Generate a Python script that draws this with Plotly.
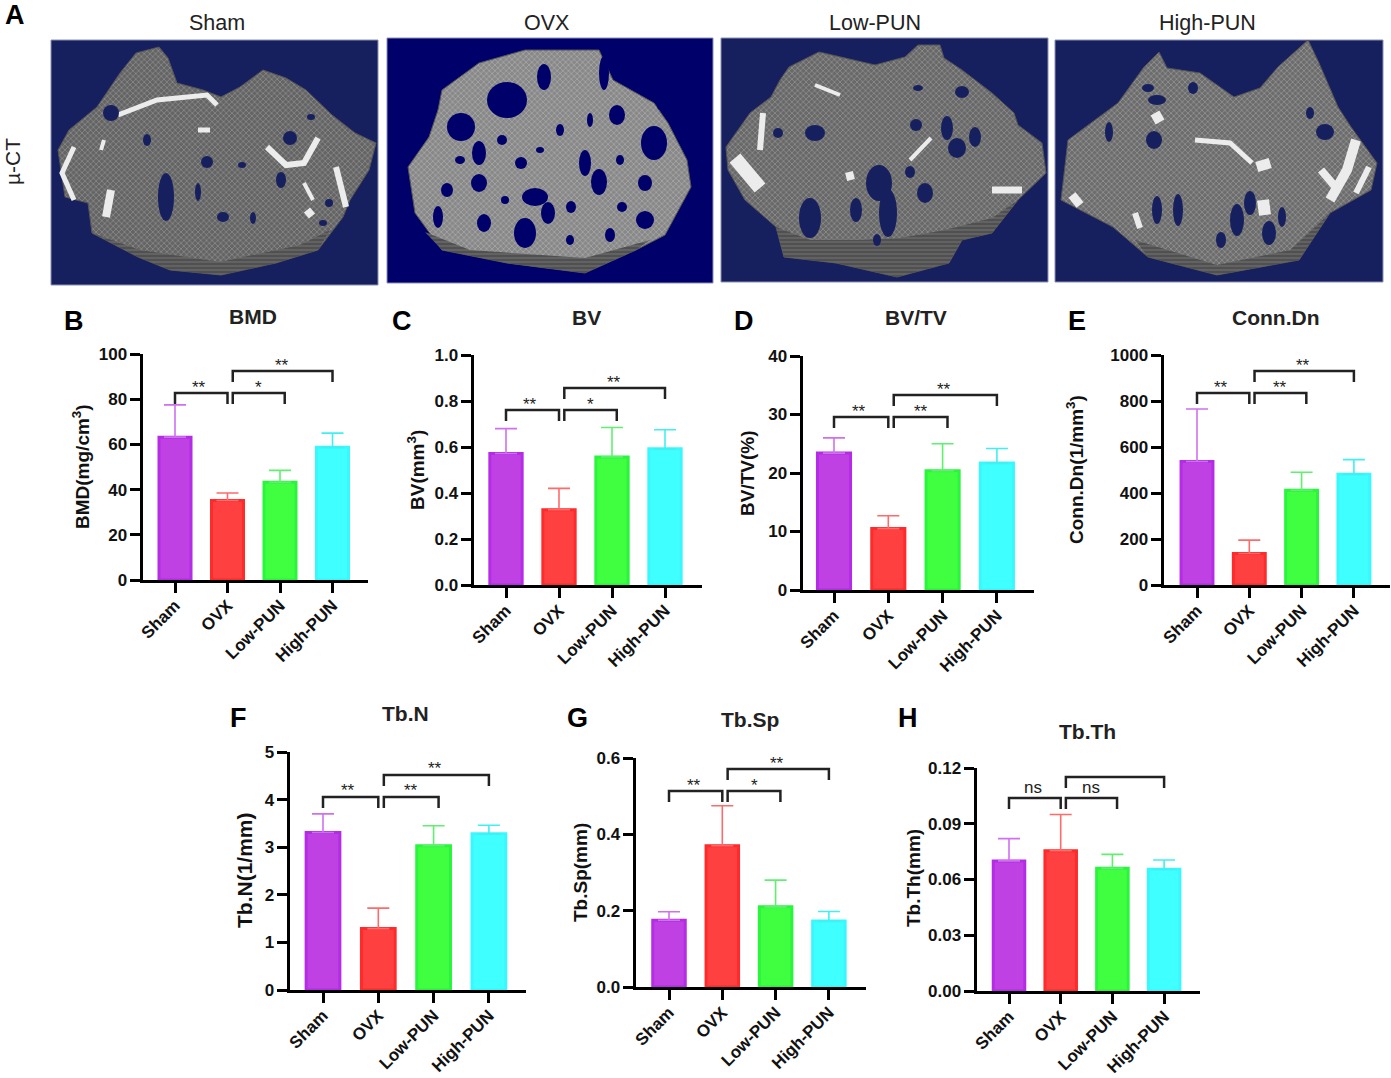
import plotly.graph_objects as go

W, H = 1391, 1078
FONT = 'Liberation Sans'

groups = ['Sham', 'OVX', 'Low-PUN', 'High-PUN']
fill_colors = ['#BF40E3', '#FF4040', '#40FF40', '#40FFFF']
line_colors = ['#B52CE6', '#FF2A2A', '#28F53C', '#38F8FF']
err_colors = ['#D070F0', '#FF6A6A', '#60F070', '#40F0F0']

bmd = [63.2, 35.2, 43.2, 58.7]
bmd_sd = [14.3, 3.3, 5.3, 6.3]
bv = [0.572, 0.327, 0.557, 0.592]
bv_sd = [0.108, 0.093, 0.128, 0.083]
bvtv = [23.4, 10.5, 20.4, 21.7]
bvtv_sd = [2.6, 2.2, 4.6, 2.5]
conn = [537, 137, 412, 482]
conn_sd = [228, 58, 78, 63]
tbn = [3.31, 1.29, 3.03, 3.28]
tbn_sd = [0.39, 0.43, 0.42, 0.18]
tbsp = [0.175, 0.37, 0.21, 0.173]
tbsp_sd = [0.022, 0.105, 0.07, 0.025]
tbth = [0.07, 0.0755, 0.066, 0.0655]
tbth_sd = [0.012, 0.0195, 0.0075, 0.005]

# name, y title, values, sd, tick labels, significance labels
panels = [
    ('BMD', 'BMD(mg/cm<sup>3</sup>)', bmd, bmd_sd, ['0', '20', '40', '60', '80', '100'], ['**', '*', '**']),
    ('BV', 'BV(mm<sup>3</sup>)', bv, bv_sd, ['0.0', '0.2', '0.4', '0.6', '0.8', '1.0'], ['**', '*', '**']),
    ('BV/TV', 'BV/TV(%)', bvtv, bvtv_sd, ['0', '10', '20', '30', '40'], ['**', '**', '**']),
    ('Conn.Dn', 'Conn.Dn(1/mm<sup>3</sup>)', conn, conn_sd, ['0', '200', '400', '600', '800', '1000'], ['**', '**', '**']),
    ('Tb.N', 'Tb.N(1/mm)', tbn, tbn_sd, ['0', '1', '2', '3', '4', '5'], ['**', '**', '**']),
    ('Tb.Sp', 'Tb.Sp(mm)', tbsp, tbsp_sd, ['0.0', '0.2', '0.4', '0.6'], ['**', '*', '**']),
    ('Tb.Th', 'Tb.Th(mm)', tbth, tbth_sd, ['0.00', '0.03', '0.06', '0.09', '0.12'], ['ns', 'ns', 'ns']),
]

# page layout in pixels: axis left, axis right, y top, y bottom, first bar, bar step,
# low bracket top, high bracket top, title x, title y, y title x, y title y, y title size
geom = [
    (141, 368, 354, 581, 175, 52.5, 393, 371, 253, 316, 81, 467, 19),
    (472, 702, 355, 586, 506, 53, 410, 388, 586, 317, 416, 470, 19),
    (801, 1034, 356, 591, 834, 54.3, 417, 395, 916, 317, 748, 473, 19),
    (1162, 1390, 355, 586, 1197, 52.3, 393, 371, 1275, 317, 1075, 470, 19),
    (288, 526, 752, 991, 323, 55.3, 797, 775, 406, 713, 244, 870, 21),
    (634, 866, 758, 988, 669, 53.3, 791, 769, 750, 719, 580, 873, 19),
    (975, 1200, 768, 992, 1009, 51.7, 798, 777, 1087, 731, 913, 878, 19),
]
letters = [('A', 15, 15), ('B', 74, 321), ('C', 402, 321), ('D', 744, 321),
           ('E', 1077, 321), ('F', 238, 718), ('G', 577, 718), ('H', 908, 718)]

# the four micro-CT pictures, sketched in page pixels
ct_titles = [('Sham', 217), ('OVX', 546), ('Low-PUN', 875), ('High-PUN', 1207)]
ct_rects = [(51, 40, 378, 285, '#17205F'), (387, 38, 713, 283, '#00006B'),
            (721, 38, 1048, 282, '#17205F'), (1055, 40, 1383, 282, '#17205F')]
ct_bodies = [
    [(136, 53), (159, 47), (168, 58), (177, 83), (203, 90), (221, 97), (240, 87), (263, 70), (286, 78),
     (306, 90), (332, 115), (355, 133), (376, 143), (369, 170), (350, 200), (343, 217), (318, 250),
     (276, 263), (221, 275), (170, 270), (138, 257), (92, 233), (88, 203), (65, 197), (58, 150),
     (69, 130), (97, 107), (120, 73)],
    [(442, 90), (479, 63), (525, 50), (599, 50), (613, 80), (654, 103), (668, 123), (687, 160), (691, 187),
     (677, 213), (665, 235), (636, 250), (585, 273), (507, 263), (442, 250), (415, 213), (408, 167),
     (429, 137), (438, 110)],
    [(789, 67), (819, 52), (845, 58), (875, 65), (905, 57), (918, 45), (940, 45), (944, 58), (962, 70),
     (992, 93), (1014, 113), (1018, 125), (1042, 143), (1046, 173), (1018, 200), (992, 233), (962, 240),
     (949, 263), (897, 277), (836, 263), (784, 257), (776, 227), (745, 200), (728, 170), (726, 147),
     (750, 113), (771, 97), (780, 80)],
    [(1144, 67), (1159, 52), (1167, 68), (1200, 73), (1234, 97), (1260, 88), (1278, 67), (1308, 40),
     (1319, 63), (1338, 107), (1351, 127), (1377, 163), (1371, 190), (1330, 213), (1299, 260), (1217, 275),
     (1148, 257), (1113, 227), (1061, 200), (1068, 140), (1118, 103)],
]
ct_bands = [
    [(92, 233), (140, 250), (220, 262), (300, 245), (330, 230), (318, 250), (276, 263), (221, 275), (170, 270), (138, 257)],
    [(425, 232), (470, 250), (585, 258), (650, 240), (636, 250), (585, 273), (507, 263), (442, 250)],
    [(776, 227), (810, 240), (860, 240), (900, 238), (945, 230), (992, 218), (1018, 200), (992, 233), (962, 240),
     (949, 263), (897, 277), (836, 263), (784, 257)],
    [(1135, 240), (1217, 265), (1290, 250), (1330, 213), (1299, 260), (1217, 275), (1148, 257)],
]
ct_tones = [('#C4C4C4', '#646464'), ('#D6D6D6', '#888888'), ('#C8C8C8', '#686868'), ('#CCCCCC', '#6C6C6C')]
# centre x, centre y, radius x, radius y
ct_holes = [
    [(290, 138, 7, 7), (166, 197, 8, 24), (207, 162, 6, 6), (281, 180, 5, 8), (223, 217, 6, 5), (111, 113, 8, 8),
     (253, 218, 3, 6), (198, 192, 3, 9), (311, 117, 4, 3), (147, 140, 4, 6), (242, 165, 4, 3), (329, 203, 4, 4),
     (323, 223, 4, 3)],
    [(507, 100, 20, 18), (461, 127, 14, 14), (617, 115, 8, 10), (654, 143, 13, 17), (479, 153, 7, 12),
     (585, 163, 6, 13), (599, 182, 8, 13), (645, 183, 7, 8), (521, 163, 6, 6), (479, 183, 8, 9), (447, 190, 6, 7),
     (535, 197, 13, 9), (525, 233, 11, 15), (484, 223, 7, 9), (548, 213, 7, 11), (645, 220, 9, 9),
     (502, 140, 5, 5), (571, 207, 5, 6), (622, 207, 5, 5), (438, 217, 5, 11), (544, 77, 7, 13), (604, 73, 5, 17),
     (560, 130, 4, 6), (590, 120, 3, 7), (540, 150, 4, 3), (620, 160, 4, 5), (505, 200, 4, 4), (460, 160, 5, 4),
     (610, 235, 5, 7), (570, 240, 4, 5), (660, 105, 3, 5)],
    [(888, 213, 9, 24), (810, 218, 11, 20), (879, 183, 13, 18), (815, 133, 10, 8), (957, 148, 9, 10),
     (975, 137, 6, 10), (947, 128, 6, 12), (962, 92, 7, 6), (856, 210, 6, 12), (925, 193, 8, 10), (778, 133, 5, 5),
     (910, 172, 5, 6), (916, 125, 6, 6), (918, 88, 5, 3), (877, 240, 4, 6)],
    [(1157, 210, 5, 14), (1178, 210, 5, 16), (1237, 220, 7, 16), (1269, 233, 7, 12), (1325, 132, 9, 8),
     (1154, 140, 8, 9), (1157, 100, 9, 5), (1148, 88, 6, 4), (1193, 88, 5, 6), (1250, 203, 6, 12), (1109, 132, 4, 10),
     (1221, 240, 5, 8), (1282, 217, 4, 10), (1310, 113, 4, 6)],
]
# width, points
ct_streaks = [
    (5, [(118, 115), (157, 100), (207, 95), (217, 105)]), (6, [(267, 147), (286, 165), (304, 163), (318, 138)]),
    (5, [(74, 147), (62, 173), (74, 200)]), (6, [(336, 167), (346, 207)]), (8, [(111, 190), (106, 217)]),
    (4, [(304, 183), (313, 200)]), (5, [(198, 130), (210, 130)]), (4, [(104, 140), (101, 150)]), (8, [(307, 210), (312, 216)]),
    (6, [(763, 113), (760, 150)]), (7, [(992, 190), (1022, 190)]), (4, [(910, 160), (931, 138)]),
    (4, [(815, 85), (840, 95)]), (14, [(735, 158), (760, 188)]), (8, [(849, 172), (851, 180)]),
    (5, [(1195, 140), (1230, 143), (1252, 163)]), (10, [(1356, 140), (1347, 170), (1330, 200)]),
    (8, [(1321, 170), (1338, 190)]), (6, [(1369, 167), (1356, 193)]), (12, [(1263, 200), (1265, 215)]),
    (14, [(1262, 160), (1265, 170)]), (10, [(1155, 113), (1160, 122)]), (9, [(1072, 195), (1080, 205)]),
    (6, [(1135, 213), (1140, 228)]),
]


def px_x(x):
    return x / W


def px_y(y):
    return 1 - y / H


fig = go.Figure()
shapes = []
annotations = []


def add_text(text, x, y, size, bold=False, angle=0, color='black'):
    if bold:
        text = f'<b>{text}</b>'
    annotations.append(dict(text=text, x=px_x(x), y=px_y(y), xref='paper', yref='paper', showarrow=False,
                            xanchor='center', yanchor='middle', textangle=angle,
                            font=dict(family=FONT, size=size, color=color)))


# picture panels on one page sized axis
fig.update_layout(
    xaxis8=dict(domain=[0, 1], range=[0, W], visible=False, fixedrange=True, automargin=False),
    yaxis8=dict(domain=[0, 1], range=[H, 0], visible=False, fixedrange=True, automargin=False),
)
for i, (x0, y0, x1, y1, color) in enumerate(ct_rects):
    shapes.append(dict(type='rect', xref='x8', yref='y8', x0=x0, x1=x1, y0=y0, y1=y1, layer='below',
                       fillcolor=color, line=dict(color='#8A8FB5', width=1)))
    body = ct_bodies[i] + ct_bodies[i][:1]
    fig.add_trace(go.Scatter(
        x=[p[0] for p in body], y=[p[1] for p in body], xaxis='x8', yaxis='y8', mode='lines', fill='toself',
        line=dict(color='#555555', width=1), fillcolor='#777777',
        fillpattern=dict(shape='x', size=4, solidity=0.3, fgcolor=ct_tones[i][0], bgcolor=ct_tones[i][1]),
        hoverinfo='skip'))
    band = ct_bands[i] + ct_bands[i][:1]
    fig.add_trace(go.Scatter(
        x=[p[0] for p in band], y=[p[1] for p in band], xaxis='x8', yaxis='y8', mode='lines', fill='toself',
        line=dict(color='#4A4A4A', width=0),
        fillpattern=dict(shape='-', size=4, solidity=0.3, fgcolor='#8C8C8C', bgcolor='#505050'),
        hoverinfo='skip'))
    for cx, cy, rx, ry in ct_holes[i]:
        shapes.append(dict(type='circle', xref='x8', yref='y8', x0=cx - rx, x1=cx + rx, y0=cy - ry, y1=cy + ry,
                           fillcolor=color, line=dict(width=0)))
for width, pts in ct_streaks:
    fig.add_trace(go.Scatter(x=[p[0] for p in pts], y=[p[1] for p in pts], xaxis='x8', yaxis='y8', mode='lines',
                             line=dict(color='#ECECEC', width=width), hoverinfo='skip'))

for name, x in ct_titles:
    add_text(name, x, 23, 21.5, color='#222222')
add_text('µ-CT', 12, 162, 21, angle=-90, color='#222222')
for letter, x, y in letters:
    add_text(letter, x, y, 27, bold=True)

# bar panels
for n, panel in enumerate(panels):
    name, ytitle, values, sd, ticks, sig = panel
    left, right, top, bottom, first, step, low, high, tx, ty, ytx, yty, ysize = geom[n]
    left += 1.5
    bottom -= 1
    idx = n + 1
    xa, ya = ('x', 'y') if idx == 1 else (f'x{idx}', f'y{idx}')
    tick_vals = [float(t) for t in ticks]
    ymax = tick_vals[-1]

    for i, group in enumerate(groups):
        fig.add_trace(go.Bar(
            x=[i], y=[values[i]], width=0.61, xaxis=xa, yaxis=ya, name=group,
            marker=dict(color=fill_colors[i], line=dict(color=line_colors[i], width=3)),
            error_y=dict(type='data', array=[sd[i]], symmetric=False, arrayminus=[0], visible=True,
                         color=err_colors[i], thickness=1.6, width=11),
        ))

    fig.update_layout({
        f'xaxis{idx}': dict(
            domain=[px_x(left), px_x(right)], anchor=ya, automargin=False,
            range=[(left - first) / step, (right - first) / step],
            tickmode='array', tickvals=list(range(4)), ticktext=[f'<b>{g}</b>' for g in groups],
            tickangle=-45, ticks='outside', ticklen=10, tickwidth=3, tickcolor='black',
            showline=True, linewidth=3, linecolor='black', showgrid=False, zeroline=False,
            ticklabelstandoff=-4,
            tickfont=dict(family=FONT, size=17, color='#111111'),
        ),
        f'yaxis{idx}': dict(
            domain=[px_y(bottom), px_y(top)], anchor=xa, range=[0, ymax], automargin=False,
            tickmode='array', tickvals=tick_vals, ticktext=[f'<b>{t}</b>' for t in ticks],
            ticks='outside', ticklen=10, tickwidth=3, tickcolor='black',
            showline=True, linewidth=3, linecolor='black', showgrid=False, zeroline=False,
            ticklabelstandoff=-1,
            tickfont=dict(family=FONT, size=17, color='#111111'),
        ),
    })

    add_text(name, tx, ty, 21, bold=True, color='#222222')
    add_text(ytitle, ytx, yty, ysize, bold=True, angle=-90, color='#111111')

    def val(p):
        return ymax * (bottom - p) / (bottom - top)

    spans = [(0, 1, low, -0.04), (1.1, 2.09, low, 0.0), (1.1, 3, high, -0.02)]
    for (a, b, level, shift), label in zip(spans, sig):
        y_top, y_tip = val(level), val(level + 11)
        shapes.append(dict(type='path', xref=xa, yref=ya, path=f'M {a},{y_tip} L {a},{y_top} L {b},{y_top} L {b},{y_tip}',
                           line=dict(color='#222222', width=2.5)))
        lift = 11 if label == 'ns' else 6
        annotations.append(dict(text=label, x=(a + b) / 2 + shift, y=val(level - lift), xref=xa, yref=ya, showarrow=False,
                                xanchor='center', yanchor='middle',
                                font=dict(family=FONT, size=17, color='#222222')))

fig.update_layout(
    width=W, height=H, margin=dict(l=0, r=0, t=0, b=0), autosize=False,
    paper_bgcolor='white', plot_bgcolor='rgba(0,0,0,0)',
    showlegend=False, barmode='overlay', shapes=shapes, annotations=annotations,
)

fig.write_html('out.html', config={'displayModeBar': False},
               post_script="document.body.style.margin='0';document.documentElement.style.overflow='hidden';")
